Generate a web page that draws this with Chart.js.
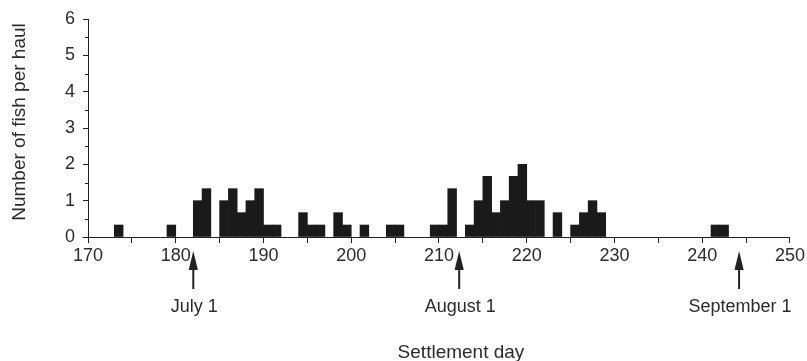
<!DOCTYPE html>
<html>
<head>
<meta charset="utf-8">
<script src="https://cdn.jsdelivr.net/npm/chart.js@4/dist/chart.umd.min.js"></script>
<style>
  html, body { margin: 0; padding: 0; background: #fff; }
  #wrap { width: 807px; height: 361px; }
</style>
</head>
<body>
<div id="wrap"><canvas id="chart" width="807" height="361"></canvas></div>
<script>
/* ── Data ─────────────────────────────────────────────────────────────── */
// first day of each one-day bin that has fish
const days = [173, 179, 182, 183, 185, 186, 187, 188, 189, 190, 191,
              194, 195, 196, 198, 199, 201, 204, 205, 209, 210, 211,
              213, 214, 215, 216, 217, 218, 219, 220, 221, 223, 225,
              226, 227, 228, 241, 242];
const fishPerHaul = [0.33, 0.33, 1, 1.33, 1, 1.33, 0.67, 1, 1.33, 0.33, 0.33,
                     0.67, 0.33, 0.33, 0.67, 0.33, 0.33, 0.33, 0.33, 0.33, 0.33, 1.33,
                     0.33, 1, 1.67, 0.67, 1, 1.67, 2, 1, 1, 0.67, 0.33,
                     0.67, 1, 0.67, 0.33, 0.33];
const yMinorTicks = [0.5, 1.5, 2.5, 3.5, 4.5, 5.5];
const markerDays = [182, 212.3, 244.2];
const markerLabels = ['July 1', 'August 1', 'September 1'];
const xTitle = 'Settlement day';
const yTitle = 'Number of fish per haul';

const INK = '#222';
const TEXT = '#2b2b2b';
const FONT = '"Liberation Sans", Arial, Helvetica, sans-serif';

/* ── Extras: minor y ticks, date arrows, axis titles ──────────────────── */
const extras = {
  id: 'extras',
  afterDraw(chart) {
    const { ctx, scales: { x, y } } = chart;
    ctx.save();
    ctx.strokeStyle = INK;
    ctx.lineWidth = 1;
    yMinorTicks.forEach(v => {
      const py = Math.round(y.getPixelForValue(v)) + 0.5;
      ctx.beginPath();
      ctx.moveTo(x.left - 3, py);
      ctx.lineTo(x.left, py);
      ctx.stroke();
    });

    ctx.font = '18px ' + FONT;
    ctx.textAlign = 'center';
    ctx.textBaseline = 'alphabetic';
    markerDays.forEach((d, i) => {
      const px = x.getPixelForValue(d);
      ctx.fillStyle = INK;
      ctx.lineWidth = 2;
      ctx.beginPath();
      ctx.moveTo(px, 268);
      ctx.lineTo(px, 289);
      ctx.stroke();
      ctx.beginPath();
      ctx.moveTo(px, 251);
      ctx.lineTo(px - 4.6, 270);
      ctx.lineTo(px + 4.6, 270);
      ctx.closePath();
      ctx.fill();
      ctx.fillStyle = TEXT;
      ctx.fillText(markerLabels[i], px + 1, 312);
    });

    // axis titles (the x title sits right of centre in the original)
    ctx.font = '19px ' + FONT;
    ctx.fillStyle = TEXT;
    ctx.fillText(xTitle, (x.left + x.right) / 2 + 22, 358);
    ctx.translate(25, (y.top + y.bottom) / 2 - 6);
    ctx.rotate(-Math.PI / 2);
    ctx.fillText(yTitle, 0, 0);
    ctx.restore();
  }
};

/* ── Chart ────────────────────────────────────────────────────────────── */
new Chart(document.getElementById('chart'), {
  type: 'bar',
  data: {
    datasets: [{
      data: days.map((d, i) => ({ x: d + 0.5, y: fishPerHaul[i] })),
      backgroundColor: '#1a1a1a',
      borderWidth: 0,
      barPercentage: 1,
      categoryPercentage: 1,
    }],
  },
  options: {
    responsive: false,
    animation: false,
    layout: { padding: { top: 19, right: 15, bottom: 0, left: 0 } },
    plugins: { legend: { display: false }, tooltip: { enabled: false } },
    scales: {
      x: {
        type: 'linear',
        min: 170, max: 250,
        offset: false,
        grid: { offset: false, drawOnChartArea: false, drawTicks: true, tickLength: 6, tickColor: INK },
        border: { color: INK, width: 1 },
        ticks: {
          stepSize: 5, autoSkip: false, maxRotation: 0, padding: 2,
          color: TEXT, font: { family: FONT, size: 18 },
          callback: v => (v % 10 === 0 ? v : ''),
        },
        afterFit: s => { s.height = 124; },
      },
      y: {
        min: 0, max: 6,
        grid: { drawOnChartArea: false, drawTicks: true, tickLength: 5, tickColor: INK },
        border: { color: INK, width: 1 },
        ticks: {
          stepSize: 1, padding: 8,
          color: TEXT, font: { family: FONT, size: 18 },
        },
        afterFit: s => { s.width = 88; },
      },
    },
  },
  plugins: [extras],
});
</script>
</body>
</html>
